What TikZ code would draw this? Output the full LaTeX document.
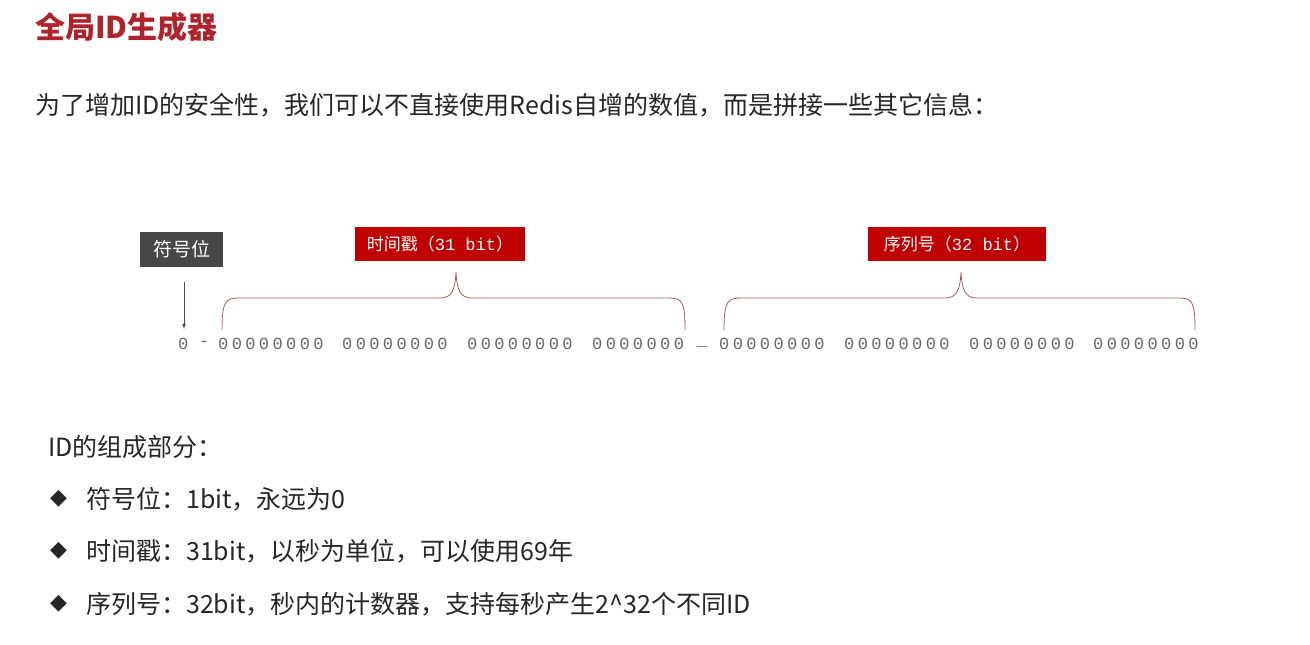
\documentclass[tikz,border=0pt]{standalone}
\usepackage{fontspec}
\setmainfont{Noto Sans CJK SC}
\newfontfamily\binfont[LetterSpace=20]{Liberation Mono}
\newfontfamily\tagmono{Liberation Mono}
\newfontfamily\symfont{DejaVu Sans}
\definecolor{tred}{HTML}{B0232A}
\definecolor{bred}{HTML}{C00000}
\definecolor{bgray}{HTML}{474747}
\definecolor{brace}{HTML}{A85A5A}
\begin{document}
\begin{tikzpicture}[x=1pt,y=-1pt,
  lbl/.style={anchor=west,inner sep=0pt,font=\fontsize{25}{28}\selectfont,text=black!85},
  bin/.style={anchor=west,inner sep=0pt,font=\binfont\fontsize{17}{19}\selectfont,text=black!60},
  tag/.style={inner sep=0pt,text=white,font=\fontsize{17}{20}\selectfont}]
\useasboundingbox (0,0) rectangle (1310,645);
\node[anchor=west,inner sep=0pt,text=tred,font=\bfseries\fontsize{30}{33}\selectfont] (title) at (35,27) {全局ID生成器};
\node[lbl,font=\fontsize{25}{28}\selectfont] (sub) at (35,105) {为了增加ID的安全性，我们可以不直接使用Redis自增的数值，而是拼接一些其它信息：};
\node[tag,fill=bgray,minimum width=83,minimum height=35,font=\fontsize{19}{22}\selectfont] (sign) at (181.5,249.5) {符号位};
\node[tag,fill=bred,minimum width=170,minimum height=34] (ts) at (440,244) {时间戳（{\tagmono 31 bit}）};
\node[tag,fill=bred,minimum width=178,minimum height=34] (seq) at (957,244) {序列号（{\tagmono 32 bit}）};
\coordinate (a1) at (184,282);
\coordinate (a2) at (184,329);
\draw[black!70,line width=0.8pt,-{latex}] (a1) -- (a2);
\node[bin] (b0) at (178,344) {0};
\node[bin] (bd) at (199,344) {-};
\node[bin] (g1) at (218,344) {00000000};
\node[bin] (g2) at (342,344) {00000000};
\node[bin] (g3) at (467,344) {00000000};
\node[bin] (g4) at (592,344) {0000000};
\node[bin] (bu) at (697,346) {\_};
\node[bin] (g5) at (719,344) {00000000};
\node[bin] (g6) at (844,344) {00000000};
\node[bin] (g7) at (969,344) {00000000};
\node[bin] (g8) at (1093,344) {00000000};
\draw[brace,line width=0.8pt] (222,330) .. controls (222,300) and (226,298) .. (240,298) -- (440,298) .. controls (452,298) and (455,290) .. (456,272) .. controls (457,290) and (460,298) .. (472,298) -- (667,298) .. controls (682,298) and (685,300) .. (685,330);
\draw[brace,line width=0.8pt] (724,330) .. controls (724,300) and (728,298) .. (742,298) -- (945,298) .. controls (957,298) and (960,290) .. (961,272) .. controls (962,290) and (965,298) .. (977,298) -- (1177,298) .. controls (1192,298) and (1195,300) .. (1195,330);
\node[lbl] (parts) at (48,447) {ID的组成部分：};
\node[lbl,font=\symfont\fontsize{22}{24}\selectfont] (d1) at (50,499) {◆};
\node[lbl,font=\symfont\fontsize{22}{24}\selectfont] (d2) at (50,551) {◆};
\node[lbl,font=\symfont\fontsize{22}{24}\selectfont] (d3) at (50,604) {◆};
\node[lbl] (t1) at (86,499) {符号位：1bit，永远为0};
\node[lbl] (t2) at (86,551) {时间戳：31bit，以秒为单位，可以使用69年};
\node[lbl] (t3) at (86,604) {序列号：32bit，秒内的计数器，支持每秒产生2\^{}32个不同ID};
\end{tikzpicture}
\end{document}
